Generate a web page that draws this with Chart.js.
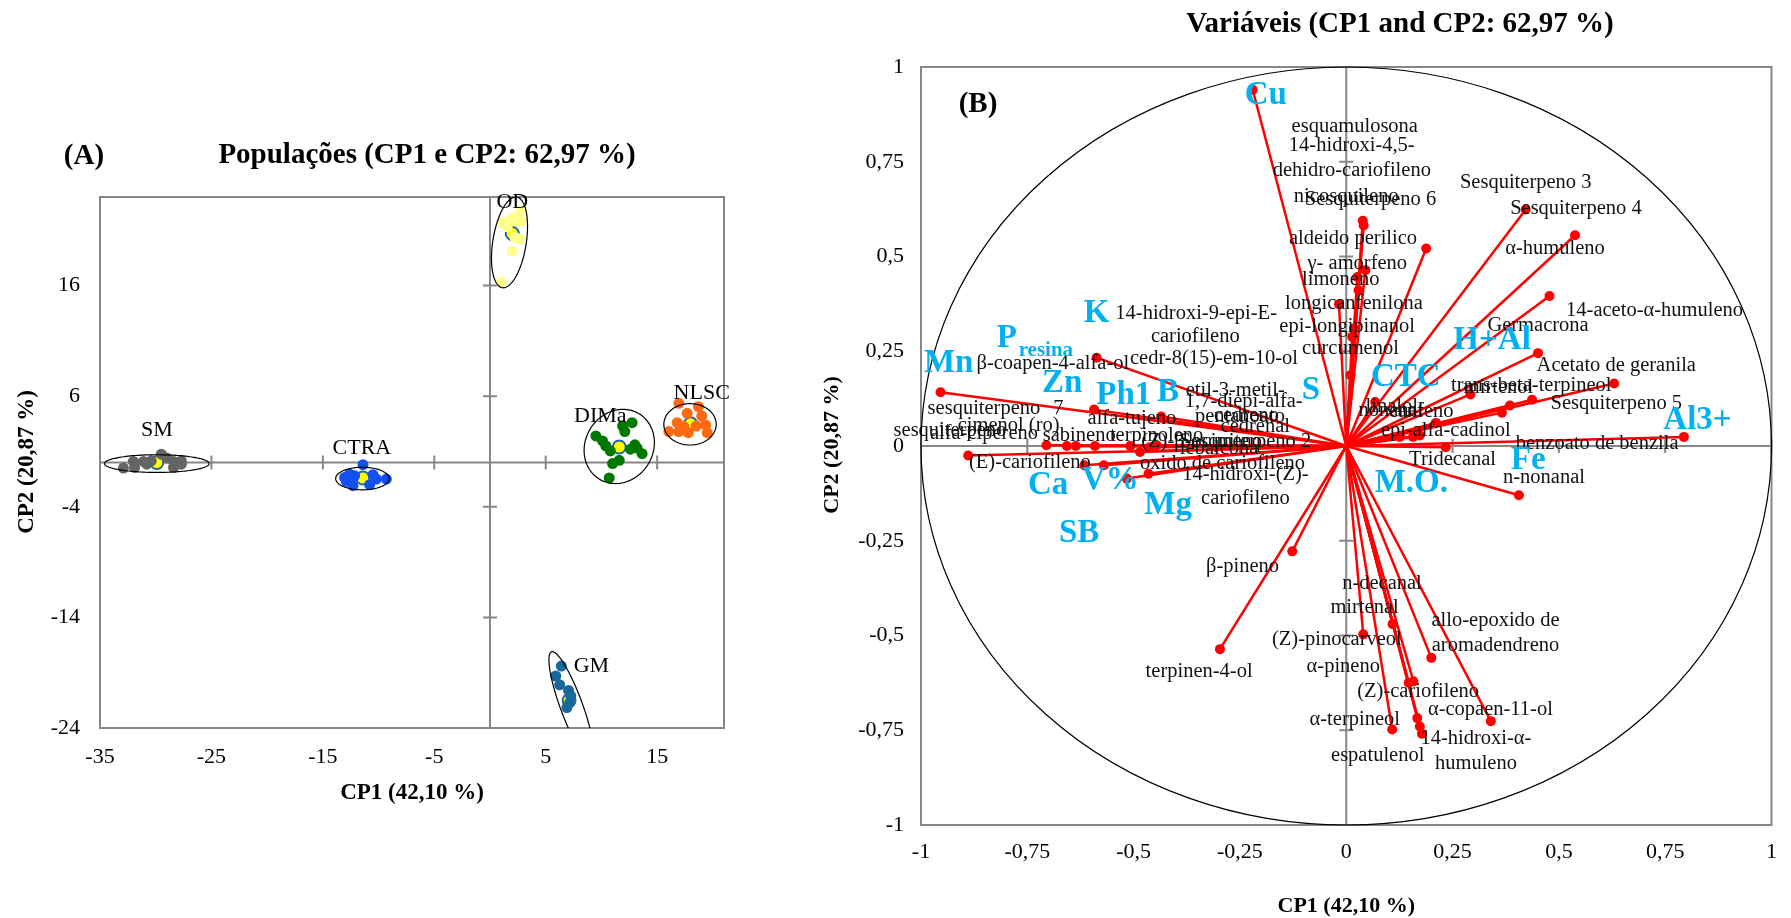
<!DOCTYPE html>
<html>
<head>
<meta charset="utf-8">
<script src="https://cdn.jsdelivr.net/npm/chart.js@4.4.1/dist/chart.umd.min.js"></script>
<style>
  * { margin: 0; padding: 0; box-sizing: border-box; }
  body { background: #fff; width: 1791px; height: 918px; overflow: hidden; position: relative; }
  #chartA { position: absolute; left: 0; top: 0; }
  #chartB { position: absolute; left: 780px; top: 0; }
</style>
</head>
<body>
<canvas id="chartA" width="780" height="918"></canvas>
<canvas id="chartB" width="1011" height="918"></canvas>
<script>
const SERIF = '"Liberation Serif", "Times New Roman", serif';
const GRAY = '#878787';
const CYAN = '#00b0f0';

// ---- Panel A: populations (CP1 x CP2 scores)
const SM = [[-32.9,-0.5],[-31.9,-0.45],[-32.0,0.1],[-31.1,0.1],[-30.4,0.15],[-29.5,0.75],[-29.0,0.4],[-28.4,-0.45],[-28.4,0.1],[-27.7,0.15],[-27.7,-0.15],[-30.8,-0.15]];
const CTRA = [[-11.4,-0.2],[-13.05,-1.35],[-12.9,-1.7],[-12.3,-2.1],[-10.8,-2.0],[-10.2,-1.5],[-9.3,-1.5],[-12.15,-1.2],[-10.5,-1.1],[-12.6,-1.05]];
const OD = [[1.0,16.3],[2.0,19.1],[2.25,20.35],[2.7,20.2],[2.3,21.85],[2.8,21.8],[1.1,21.7],[1.7,21.8],[2.1,22.15],[2.8,22.75],[1.55,21.3]];
const DIMa = [[9.5,2.4],[10.1,1.95],[10.4,1.5],[10.8,1.05],[11.0,-0.1],[11.6,0.2],[10.7,-1.4],[12.1,2.8],[11.9,3.3],[12.75,3.6],[13.0,1.6],[13.2,1.3],[13.65,0.8],[12.6,1.2]];
const NLSC = [[16.95,5.35],[18.7,5.05],[19.0,4.2],[17.7,4.45],[16.8,3.6],[17.4,3.25],[16.05,2.8],[16.95,2.8],[17.8,2.7],[18.5,3.3],[19.35,3.4],[19.5,2.7]];
const GM = [[6.4,-18.4],[5.9,-19.3],[6.25,-20.1],[7.05,-20.6],[6.9,-22.15],[7.15,-21.7],[7.25,-21.1]];
const popNames = ['SM', 'CTRA', 'OD', 'DIMa', 'NLSC', 'GM'];
const popColors = ['#646464', '#1450f0', '#ffff8c', '#007800', '#ff6a10', '#19699c'];
const centroids = [[-29.9,0.0],[-11.4,-1.4],[2.0,20.7],[11.6,1.4],[18.0,3.5],[7.1,-21.5]];
// ellipse: centre x, centre y, semi-axis a, semi-axis b, angle (deg)
const ellipses = [[-29.9,-0.1,4.7,0.8,0],[-11.45,-1.45,2.4,1.02,0],[1.75,19.9,4.15,1.5,81],[11.6,1.45,3.45,3.05,60],[17.95,3.45,2.35,1.87,0],[7.3,-22.0,5.2,1.0,-70]];
const popLabelXY = [[-29.9,2.9],[-11.5,1.3],[2.0,23.5],[9.9,4.2],[19.0,6.3],[9.1,-18.4]];
const ticksAX = [-35, -25, -15, -5, 5, 15];
const ticksAY = [-24, -14, -4, 6, 16];

// ---- Panel B: variables (loadings)
const vecX = [-0.22,0.039,0.041,0.188,0.045,0.026,0.029,-0.017,0.018,0.014,0.010,
  0.422,0.538,0.478,0.451,0.630,0.292,0.437,0.385,0.366,0.211,0.126,0.157,0.173,0.068,0.234,0.794,0.406,
  -0.127,-0.297,0.040,0.109,0.200,0.147,0.158,0.340,0.167,0.173,0.178,0.108,
  -0.587,-0.954,-0.593,-0.705,-0.657,-0.636,-0.591,-0.889,-0.616,-0.570,-0.465,-0.516,-0.435,-0.508,-0.485,-0.446,-0.462];
const vecY = [0.94,0.594,0.582,0.521,0.464,0.446,0.411,0.374,0.31,0.288,0.187,
  0.624,0.556,0.396,0.245,0.165,0.136,0.122,0.107,0.088,0.061,0.024,0.024,0.028,0.116,-0.003,0.024,-0.130,
  -0.278,-0.536,-0.497,-0.470,-0.559,-0.625,-0.621,-0.726,-0.718,-0.740,-0.759,-0.748,
  0.233,0.142,0.096,0.002,0.0,0.0,0.0,-0.025,-0.051,-0.051,-0.073,-0.086,0.078,0.0,-0.016,0.002,-0.003];
const labText = ['esquamulosona','14-hidroxi-4,5-','dehidro-cariofileno','nicosquileno','Sesquiterpeno 6','Sesquiterpeno 3','Sesquiterpeno 4',
  'aldeido perilico','α-humuleno','γ- amorfeno','limoneno','longicanfenilona','14-aceto-α-humuleno','14-hidroxi-9-epi-E-','Germacrona',
  'epi-longipinanol','cariofileno','curcumenol','cedr-8(15)-em-10-ol','β-coapen-4-alfa-ol','Acetato de geranila','trans-beta-terpineol',
  'mirtenol','etil-3-metil-','1,7-diepi-alfa-','Sesquiterpeno 5','linalol','sesquiterpeno','7','nonanal','canfeno','pentanoato','cedreno',
  'alfa-tujeno','cedrenal','sesquiterpeno','cimenol (ro)','alfa-cipereno','sabineno','terpinoleno','epi-alfa-cadinol','(Z)-β-ocimeno',
  'Sesquiterpeno 2','benzoato de benzila','lebalcona','Tridecanal','(E)-cariofileno','oxido de cariofileno','14-hidroxi-(Z)-','n-nonanal',
  'cariofileno','β-pineno','n-decanal','mirtenal','allo-epoxido de','(Z)-pinocarveol','aromadendreno','α-pineno','terpinen-4-ol',
  '(Z)-cariofileno','α-copaen-11-ol','α-terpineol','14-hidroxi-α-','espatulenol','humuleno'];
const labX = [0.020,0.013,0.013,0.0,0.057,0.422,0.540,
  0.016,0.491,0.026,-0.013,0.018,0.725,-0.353,0.451,
  0.002,-0.355,0.010,-0.311,-0.690,0.635,0.435,
  0.358,-0.261,-0.241,0.635,0.107,-0.852,-0.677,0.105,0.176,-0.250,-0.235,
  -0.504,-0.214,-0.932,-0.794,-0.852,-0.628,-0.446,0.234,-0.340,
  -0.237,0.590,-0.299,0.250,-0.744,-0.291,-0.237,0.465,
  -0.237,-0.244,0.084,0.043,0.351,-0.022,0.351,-0.007,-0.346,
  0.169,0.339,0.020,0.305,0.074,0.305];
const labY = [0.844,0.793,0.727,0.658,0.651,0.694,0.626,
  0.547,0.521,0.481,0.440,0.377,0.358,0.349,0.317,
  0.314,0.288,0.257,0.231,0.217,0.213,0.160,
  0.154,0.147,0.116,0.112,0.103,0.099,0.099,0.094,0.091,0.077,0.079,
  0.072,0.050,0.041,0.055,0.033,0.028,0.028,0.041,0.012,
  0.011,0.006,-0.007,-0.036,-0.044,-0.046,-0.075,-0.084,
  -0.139,-0.317,-0.363,-0.427,-0.460,-0.511,-0.526,-0.583,-0.596,
  -0.647,-0.696,-0.721,-0.772,-0.818,-0.838];
const soilText = ['Cu','K','P','H+Al','Mn','Zn','Ph1','B','S','CTC','Al3+','Fe','V%','Ca','M.O.','Mg','SB'];
const soilX = [-0.189,-0.587,-0.798,0.343,-0.935,-0.668,-0.523,-0.419,-0.083,0.140,0.826,0.428,-0.555,-0.701,0.153,-0.419,-0.628];
const soilY = [0.925,0.349,0.283,0.279,0.217,0.165,0.134,0.142,0.147,0.180,0.068,-0.038,-0.091,-0.104,-0.099,-0.156,-0.231];
const ticksB = [-1, -0.75, -0.5, -0.25, 0, 0.25, 0.5, 0.75, 1];

function comma(v) { return String(v).replace('.', ','); }

function text(ctx, s, x, y, font, color, align) {
  ctx.font = font;
  ctx.fillStyle = color || '#000';
  ctx.textAlign = align || 'center';
  ctx.textBaseline = 'middle';
  ctx.fillText(s, x, y);
}

function drawFrame(chart, xt, yt, half) {
  const { ctx, chartArea: a, scales: { x, y } } = chart;
  const x0 = x.getPixelForValue(0), y0 = y.getPixelForValue(0);
  ctx.save();
  ctx.strokeStyle = GRAY;
  ctx.lineWidth = 2;
  ctx.strokeRect(a.left, a.top, a.right - a.left, a.bottom - a.top);
  ctx.beginPath();
  ctx.moveTo(a.left, y0); ctx.lineTo(a.right, y0);
  ctx.moveTo(x0, a.top); ctx.lineTo(x0, a.bottom);
  xt.forEach(v => { const p = x.getPixelForValue(v); ctx.moveTo(p, y0 - half); ctx.lineTo(p, y0 + half); });
  yt.forEach(v => { const p = y.getPixelForValue(v); ctx.moveTo(x0 - half, p); ctx.lineTo(x0 + half, p); });
  ctx.stroke();
  ctx.restore();
}

function scaleOpts(min, max, ticks, pad, size, fmt, isX) {
  return {
    type: 'linear', min, max,
    grid: { display: false, drawTicks: false },
    border: { display: false },
    afterBuildTicks: s => { s.ticks = ticks.map(v => ({ value: v })); },
    afterFit: s => { if (isX) s.height = size; else s.width = size; },
    ticks: { padding: pad, color: '#000', maxRotation: 0, autoSkip: false,
      font: { family: SERIF, size: 22 }, callback: fmt }
  };
}

// ---------- Chart A
const plugA = {
  id: 'plugA',
  beforeDatasetsDraw(chart) {
    drawFrame(chart, ticksAX.slice(1), ticksAY, 7);
  },
  afterDatasetsDraw(chart) {
    const { ctx, chartArea: a, scales: { x, y } } = chart;
    const ux = x.getPixelForValue(1) - x.getPixelForValue(0);
    const uy = y.getPixelForValue(0) - y.getPixelForValue(1);
    ctx.save();
    ctx.beginPath(); ctx.rect(a.left, a.top, a.right - a.left, a.bottom - a.top); ctx.clip();
    ctx.strokeStyle = '#000'; ctx.lineWidth = 1.2;
    ellipses.forEach(([cx, cy, ea, eb, ang]) => {
      const t = ang * Math.PI / 180;
      ctx.beginPath();
      for (let i = 0; i <= 120; i++) {
        const s = i / 120 * Math.PI * 2;
        const dx = ea * Math.cos(s) * Math.cos(t) - eb * Math.sin(s) * Math.sin(t);
        const dy = ea * Math.cos(s) * Math.sin(t) + eb * Math.sin(s) * Math.cos(t);
        const px = x.getPixelForValue(cx) + dx * ux, py = y.getPixelForValue(cy) - dy * uy;
        if (i === 0) ctx.moveTo(px, py); else ctx.lineTo(px, py);
      }
      ctx.stroke();
    });
    ctx.restore();
    ctx.save();
    popNames.forEach((n, i) => {
      text(ctx, n, x.getPixelForValue(popLabelXY[i][0]), y.getPixelForValue(popLabelXY[i][1]), `22px ${SERIF}`);
    });
    text(ctx, 'Populações (CP1 e CP2: 62,97 %)', 427, 156, `bold 29px ${SERIF}`);
    text(ctx, '(A)', 84, 157, `bold 29px ${SERIF}`);
    text(ctx, 'CP1 (42,10 %)', (a.left + a.right) / 2, 793, `bold 23px ${SERIF}`);
    ctx.translate(27, 462); ctx.rotate(-Math.PI / 2);
    text(ctx, 'CP2 (20,87 %)', 0, 0, `bold 23px ${SERIF}`);
    ctx.restore();
  }
};

const dsA = [SM, CTRA, OD, DIMa, NLSC, GM].map((pts, i) => ({
  label: popNames[i],
  data: pts.map(p => ({ x: p[0], y: p[1] })),
  backgroundColor: popColors[i], borderColor: popColors[i],
  pointRadius: 5.5, pointBorderWidth: 0
}));
dsA.push({
  label: 'centroides',
  data: centroids.map(p => ({ x: p[0], y: p[1] })),
  backgroundColor: '#ffff00', borderColor: '#1f66a8',
  pointRadius: 6.5, pointBorderWidth: 2
});

new Chart(document.getElementById('chartA'), {
  type: 'scatter',
  data: { datasets: dsA },
  options: {
    responsive: false, animation: false, devicePixelRatio: 1,
    layout: { padding: { left: 20, right: 56, top: 197, bottom: 130 } },
    plugins: { legend: { display: false }, tooltip: { enabled: false } },
    scales: {
      x: scaleOpts(-35, 21, ticksAX, 16, 60, v => v, true),
      y: scaleOpts(-24, 24, ticksAY, 20, 80, v => v, false)
    }
  },
  plugins: [plugA]
});

// ---------- Chart B
const plugB = {
  id: 'plugB',
  beforeDatasetsDraw(chart) {
    drawFrame(chart, ticksB, ticksB, 7);
    const { ctx, scales: { x, y } } = chart;
    const cx = x.getPixelForValue(0), cy = y.getPixelForValue(0);
    ctx.save();
    ctx.strokeStyle = '#000'; ctx.lineWidth = 1.2;
    ctx.beginPath();
    ctx.ellipse(cx, cy, x.getPixelForValue(1) - cx, cy - y.getPixelForValue(1), 0, 0, Math.PI * 2);
    ctx.stroke();
    ctx.restore();
  },
  afterDatasetsDraw(chart) {
    const { ctx, chartArea: a, scales: { x, y } } = chart;
    ctx.save();
    labText.forEach((s, i) => {
      text(ctx, s, x.getPixelForValue(labX[i]), y.getPixelForValue(labY[i]), `20.5px ${SERIF}`, '#111');
    });
    soilText.forEach((s, i) => {
      const px = x.getPixelForValue(soilX[i]), py = y.getPixelForValue(soilY[i]);
      text(ctx, s, px, py, `bold 33px ${SERIF}`, CYAN);
      if (s === 'P') text(ctx, 'resina', px + 39, py + 12, `bold 21px ${SERIF}`, CYAN, 'center');
    });
    text(ctx, 'Variáveis (CP1 and CP2: 62,97 %)', 620, 25, `bold 29px ${SERIF}`);
    text(ctx, '(B)', 198, 105, `bold 29px ${SERIF}`);
    text(ctx, 'CP1 (42,10 %)', (a.left + a.right) / 2, 906, `bold 22px ${SERIF}`);
    ctx.translate(52, 445); ctx.rotate(-Math.PI / 2);
    text(ctx, 'CP2 (20,87 %)', 0, 0, `bold 22px ${SERIF}`);
    ctx.restore();
  }
};

const dsB = vecX.map((vx, i) => ({
  data: [{ x: 0, y: 0 }, { x: vx, y: vecY[i] }],
  showLine: true,
  borderColor: '#ff0000', backgroundColor: '#ff0000', borderWidth: 2.5,
  pointRadius: [0, 5], pointBorderWidth: 0
}));

new Chart(document.getElementById('chartB'), {
  type: 'scatter',
  data: { datasets: dsB },
  options: {
    responsive: false, animation: false, devicePixelRatio: 1,
    layout: { padding: { left: 61, right: 8, top: 67, bottom: 33 } },
    plugins: { legend: { display: false }, tooltip: { enabled: false } },
    scales: {
      x: scaleOpts(-1, 1, ticksB, 14, 60, comma, true),
      y: scaleOpts(-1, 1, ticksB, 17, 80, comma, false)
    }
  },
  plugins: [plugB]
});
</script>
</body>
</html>
